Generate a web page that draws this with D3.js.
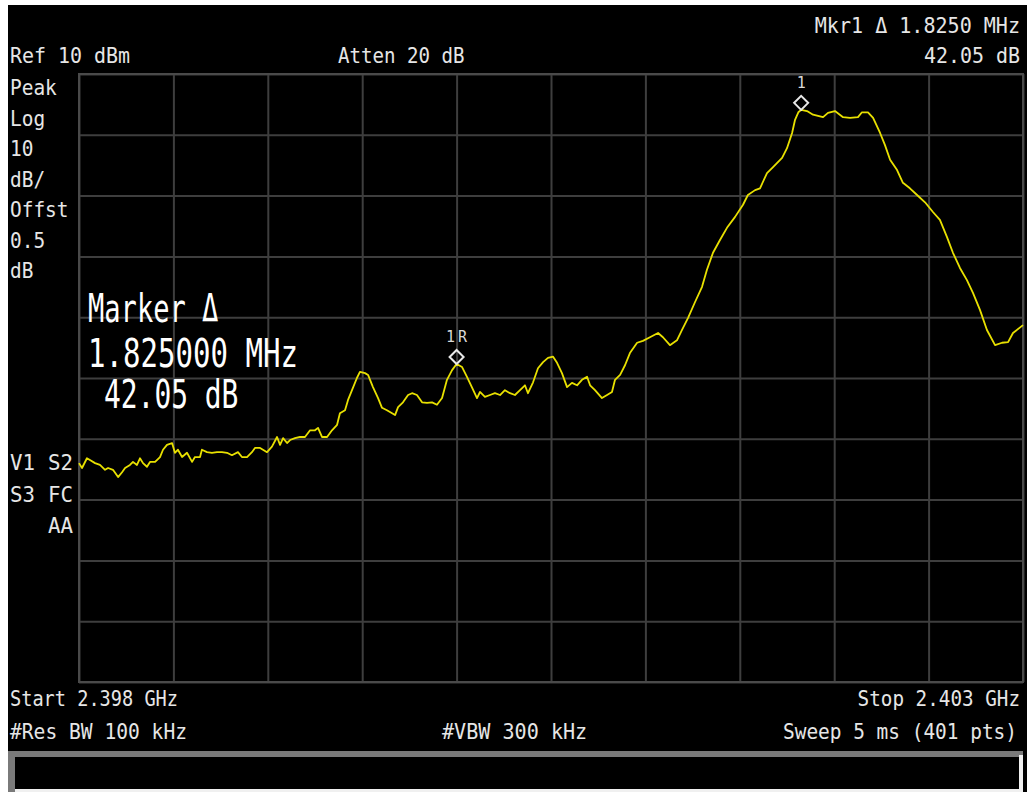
<!DOCTYPE html>
<html>
<head>
<meta charset="utf-8">
<script src="https://cdn.jsdelivr.net/npm/d3@7"></script>
<style>
body { margin: 0; background: #fff; }
svg { display: block; }
text { font-family: "DejaVu Sans Mono", monospace; }
</style>
</head>
<body>
<script>
// trace: [offset from start (MHz), level (dBm)]
var trace = [
[0.000,-54.0],[0.016,-54.8],[0.042,-53.2],[0.058,-53.5],[0.085,-54.0],[0.111,-54.3],[0.138,-55.1],[0.154,-54.8],
[0.180,-55.1],[0.207,-56.3],[0.228,-55.5],[0.244,-54.8],[0.270,-54.3],[0.286,-53.8],[0.307,-54.3],[0.323,-53.2],
[0.339,-54.0],[0.360,-54.6],[0.376,-53.8],[0.403,-53.8],[0.429,-53.0],[0.445,-51.8],[0.466,-51.0],[0.493,-50.7],
[0.508,-52.3],[0.524,-51.8],[0.546,-53.0],[0.572,-52.3],[0.599,-53.8],[0.614,-53.0],[0.641,-53.0],[0.651,-51.8],
[0.678,-52.2],[0.704,-52.3],[0.731,-52.2],[0.757,-52.2],[0.784,-52.3],[0.810,-52.7],[0.842,-52.2],[0.863,-53.0],
[0.890,-53.0],[0.916,-52.2],[0.932,-51.5],[0.959,-51.5],[0.996,-52.2],[1.022,-51.3],[1.049,-49.7],[1.065,-51.0],
[1.081,-49.9],[1.102,-50.7],[1.118,-50.2],[1.144,-49.9],[1.171,-49.7],[1.197,-49.7],[1.224,-48.6],[1.250,-48.6],
[1.266,-48.2],[1.287,-49.7],[1.314,-49.7],[1.340,-48.6],[1.367,-47.7],[1.382,-45.8],[1.409,-45.3],[1.425,-43.6],
[1.446,-42.0],[1.472,-40.0],[1.488,-39.0],[1.515,-39.2],[1.531,-39.5],[1.557,-41.5],[1.584,-43.3],[1.605,-44.9],
[1.631,-45.3],[1.647,-45.6],[1.674,-46.1],[1.690,-44.8],[1.716,-44.0],[1.743,-42.8],[1.764,-42.5],[1.790,-42.8],
[1.817,-44.0],[1.843,-44.1],[1.870,-44.0],[1.896,-44.4],[1.923,-43.3],[1.949,-40.3],[1.976,-38.7],[2.000,-37.7],
[2.029,-38.2],[2.055,-39.8],[2.082,-41.6],[2.108,-43.3],[2.124,-42.3],[2.150,-43.1],[2.177,-42.8],[2.203,-42.5],
[2.230,-42.8],[2.256,-42.0],[2.283,-42.5],[2.309,-42.8],[2.336,-42.0],[2.362,-41.2],[2.378,-42.5],[2.405,-40.7],
[2.431,-38.4],[2.458,-37.4],[2.484,-36.7],[2.511,-36.5],[2.532,-37.5],[2.558,-39.2],[2.585,-41.5],[2.611,-40.8],
[2.638,-41.2],[2.664,-40.3],[2.691,-39.8],[2.707,-41.2],[2.733,-42.0],[2.770,-43.3],[2.797,-42.8],[2.823,-42.3],
[2.839,-40.3],[2.866,-39.5],[2.892,-37.9],[2.918,-35.9],[2.956,-34.2],[2.987,-33.9],[3.024,-33.3],[3.067,-32.6],
[3.093,-33.3],[3.130,-34.6],[3.167,-33.8],[3.194,-32.1],[3.226,-30.1],[3.263,-27.5],[3.300,-25.0],[3.326,-22.2],
[3.358,-19.4],[3.395,-17.3],[3.432,-15.3],[3.475,-13.5],[3.517,-11.5],[3.543,-9.9],[3.581,-9.1],[3.607,-8.8],
[3.644,-6.3],[3.676,-5.3],[3.724,-3.8],[3.750,-2.2],[3.777,0.3],[3.792,2.4],[3.810,3.7],[3.825,4.1],
[3.856,3.9],[3.888,3.3],[3.941,2.9],[3.967,3.6],[4.004,3.9],[4.047,2.9],[4.084,2.8],[4.126,2.9],
[4.147,3.7],[4.179,3.7],[4.206,2.8],[4.243,0.3],[4.269,-1.7],[4.296,-4.1],[4.333,-5.8],[4.364,-7.9],
[4.401,-8.8],[4.439,-9.9],[4.481,-11.1],[4.523,-12.7],[4.560,-14.0],[4.597,-16.8],[4.629,-19.4],[4.666,-21.9],
[4.703,-23.9],[4.735,-26.0],[4.772,-28.8],[4.809,-32.1],[4.852,-34.6],[4.889,-34.2],[4.921,-34.1],[4.947,-32.6],
[5.000,-31.3]
];

var spanTicks = d3.range(0, 5.001, 0.5);   // 10 divisions over 5 MHz
var levelTicks = d3.range(-90, 10.001, 10); // 10 dB/div, ref 10 dBm

// markers: 1R reference and 1 delta
var markers = [
  {label: "1R", f: 2.000},
  {label: "1", f: 3.825}
];

var leftLabels = ["Peak", "Log", "10", "dB/", "Offst", "0.5", "dB"];

var W = 1027, H = 792;
var plot = {left: 79, right: 1023, top: 74, bottom: 682};

var svg = d3.select("body").append("svg")
  .attr("width", W)
  .attr("height", H);

// white frame round the screen
svg.append("rect").attr("width", W).attr("height", H).attr("fill", "#fff");
svg.append("rect").attr("x", 8).attr("y", 5).attr("width", W - 8).attr("height", H - 5).attr("fill", "#000");

var x = d3.scaleLinear().domain([0, 5]).range([plot.left, plot.right]);
var y = d3.scaleLinear().domain([-90, 10]).range([plot.bottom, plot.top]);

// graticule
var grid = svg.append("g");
grid.append("g")
  .attr("transform", "translate(0," + plot.bottom + ")")
  .call(d3.axisBottom(x).tickValues(spanTicks).tickSize(-(plot.bottom - plot.top)).tickFormat(""))
  .call(function(g) { g.select(".domain").remove(); });
grid.append("g")
  .attr("transform", "translate(" + plot.left + ",0)")
  .call(d3.axisLeft(y).tickValues(levelTicks).tickSize(-(plot.right - plot.left)).tickFormat(""))
  .call(function(g) { g.select(".domain").remove(); });
grid.selectAll("line").attr("stroke", "#3e3e3e").attr("stroke-width", 2);
grid.append("rect")
  .attr("x", plot.left).attr("y", plot.top)
  .attr("width", plot.right - plot.left).attr("height", plot.bottom - plot.top)
  .attr("fill", "none").attr("stroke", "#4a4a4a").attr("stroke-width", 2);

// trace
var line = d3.line()
  .x(function(d) { return x(d[0]); })
  .y(function(d) { return y(d[1]); });

svg.append("path")
  .datum(trace)
  .attr("d", line)
  .attr("fill", "none")
  .attr("stroke", "#e8e000")
  .attr("stroke-width", 1.8)
  .attr("stroke-linejoin", "round");

// markers
markers.forEach(function(m) {
  var pt = trace.find(function(d) { return Math.abs(d[0] - m.f) < 1e-6; });
  var cx = x(m.f), cy = y(pt[1]) - 7;
  svg.append("path")
    .attr("d", "M" + cx + "," + (cy - 7) + "L" + (cx + 7) + "," + cy + "L" + cx + "," + (cy + 7) + "L" + (cx - 7) + "," + cy + "Z")
    .attr("fill", "none")
    .attr("stroke", "#e8e8e8")
    .attr("stroke-width", 2);
  var t = svg.append("text")
    .attr("x", cx).attr("y", cy - 15)
    .attr("text-anchor", "middle")
    .attr("fill", "#d8d8d8")
    .style("font-size", "15px")
    .text(m.label);
  if (m.label.length > 1) t.attr("textLength", 21).attr("lengthAdjust", "spacing");
});

// annotation text
var cw = 11.7;
function label(str, px, py, anchor, charW, size, color) {
  charW = charW || cw;
  svg.append("text")
    .attr("x", px).attr("y", py)
    .attr("text-anchor", anchor || "start")
    .attr("fill", color || "#e6e6e6")
    .attr("textLength", str.length * charW)
    .attr("lengthAdjust", "spacingAndGlyphs")
    .style("font-size", (size || 21) + "px")
    .text(str);
}

label("Ref 10 dBm", 10, 63, "start", 12);
label("Atten 20 dB", 338, 63, "start", 11.5);
label("Mkr1 \u0394  1.8250 MHz", 1020, 33, "end", 11.4);
label("42.05 dB", 1020, 63, "end", 12);

leftLabels.forEach(function(s, i) {
  label(s, 10, 95 + i * 30.5);
});

label("V1", 10, 470, "start", 12.5);
label("S2", 73, 470, "end", 12.5);
label("S3", 10, 502, "start", 12.5);
label("FC", 73, 502, "end", 12.5);
label("AA", 73, 533, "end", 12.5);

label("Marker \u0394", 88, 322, "start", 16.3, 39, "#fff");
label("1.825000 MHz", 88, 367, "start", 17.5, 39, "#fff");
label("42.05 dB", 104, 408, "start", 16.8, 39, "#fff");

label("Start 2.398 GHz", 10, 706, "start", 11.2);
label("Stop 2.403 GHz", 1020, 706, "end", 11.6);
label("#Res BW 100 kHz", 10, 739, "start", 11.8);
label("#VBW 300 kHz", 442, 739, "start", 12.1);
label("Sweep 5 ms (401 pts)", 1017, 739, "end", 11.7);

// status box at the bottom
svg.append("rect").attr("x", 8).attr("y", 751).attr("width", 1015).attr("height", 41).attr("fill", "#7a7a7a");
svg.append("rect").attr("x", 1019).attr("y", 755).attr("width", 4).attr("height", 37).attr("fill", "#f0f0f0");
svg.append("rect").attr("x", 15).attr("y", 789).attr("width", 1008).attr("height", 3).attr("fill", "#f0f0f0");
svg.append("rect").attr("x", 15).attr("y", 757).attr("width", 1004).attr("height", 32).attr("fill", "#000");
</script>
</body>
</html>
